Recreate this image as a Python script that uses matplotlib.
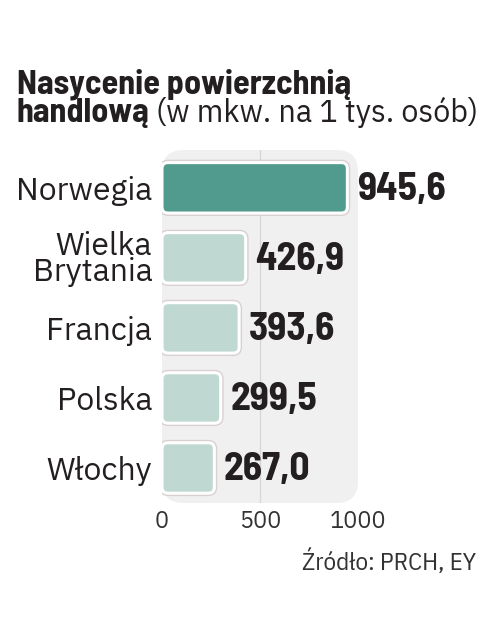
import matplotlib
matplotlib.use('Agg')
import matplotlib.pyplot as plt
from matplotlib.patches import FancyBboxPatch
import matplotlib.patheffects as pe

# dane
kraje = ['Norwegia', 'Wielka\nBrytania', 'Francja', 'Polska', 'Włochy']
wartosci = [945.6, 426.9, 393.6, 299.5, 267.0]
etykiety = ['945,6', '426,9', '393,6', '299,5', '267,0']
kolory = ['#519b8e', '#bfd9d2', '#bfd9d2', '#bfd9d2', '#bfd9d2']
xticks = [0, 500, 1000]

W, H = 480, 640
fig = plt.figure(figsize=(W/100, H/100), dpi=100, facecolor='white')

# axes placed in pixels of the reference
x0, x1, y0, y1 = 162, 358, 150, 503
ax = fig.add_axes([x0/W, 1 - y1/H, (x1-x0)/W, (y1-y0)/H])
ax.set_facecolor('none')
for s in ax.spines.values():
    s.set_visible(False)

# grey rounded background
bg = FancyBboxPatch((0, 0), 1, 1, boxstyle='round,pad=0,rounding_size=0.11',
                    mutation_aspect=(x1-x0)/(y1-y0), transform=ax.transAxes,
                    facecolor='#f0f0f0', edgecolor='none', zorder=0, clip_on=False)
ax.add_patch(bg)
ax.axvline(500, color='#d6d6d6', lw=0.9, zorder=1)

pos = list(range(len(kraje)))
ax.set_xlim(0, 1000)
ax.set_ylim(4.5, -0.54)

bars = ax.barh(pos, wartosci, height=0.72, color=kolory)
# px -> data units for rounding the corners
xu = 1000 / (x1 - x0)
yu = 5.04 / (y1 - y0)
for b, c in zip(bars, kolory):
    b.set_visible(False)
    p = FancyBboxPatch((b.get_x(), b.get_y()), b.get_width(), b.get_height(),
                       boxstyle='round,pad=0,rounding_size=%f' % (6*xu),
                       mutation_aspect=yu/xu, facecolor=c, edgecolor='white',
                       lw=2.2, zorder=3)
    p.set_path_effects([pe.Stroke(linewidth=4.2, foreground='#d9d1d1'), pe.Normal()])
    ax.add_patch(p)

for v, y, t in zip(wartosci, pos, etykiety):
    ax.annotate(t, (v, y), xytext=(7, -1), textcoords='offset points',
                ha='left', va='center', fontsize=28.5, fontweight='bold',
                family=['Barlow Semi Condensed', 'DejaVu Sans'], color='#231f20', zorder=4)

ax.set_yticks(pos)
ax.set_yticklabels(kraje, fontsize=23, family=['IBM Plex Sans', 'DejaVu Sans'],
                   color='#231f20')
for lab in ax.get_yticklabels():
    lab.set_linespacing(0.82)
    lab.set_multialignment('right')
ax.tick_params(axis='y', length=0, pad=7)

ax.set_xticks(xticks)
ax.set_xticklabels([str(t) for t in xticks], fontsize=17,
                   family=['IBM Plex Sans', 'DejaVu Sans'], color='#333333')
ax.tick_params(axis='x', length=0, pad=5)

# tytuł
t1 = fig.text(17/W, 1 - 93/H, 'Nasycenie powierzchnią', fontsize=24.5, fontweight='bold',
              family=['Barlow Semi Condensed', 'DejaVu Sans'], color='#231f20', va='baseline')
t2 = fig.text(17/W, 1 - 122/H, 'handlową', fontsize=24.5, fontweight='bold',
              family=['Barlow Semi Condensed', 'DejaVu Sans'], color='#231f20', va='baseline')
fig.canvas.draw()
bb = t2.get_window_extent()
fig.text((bb.x1 + 6)/W, 1 - 122/H, '(w mkw. na 1 tys. osób)', fontsize=22, fontweight='light',
         family=['IBM Plex Sans', 'DejaVu Sans'], color='#231f20', va='baseline')

fig.text(476/W, 1 - 562/H, 'Źródło: PRCH, EY', fontsize=18, ha='right', va='center',
         family=['IBM Plex Sans Condensed', 'DejaVu Sans'], color='#333333')

fig.savefig('out.png', dpi=100)
